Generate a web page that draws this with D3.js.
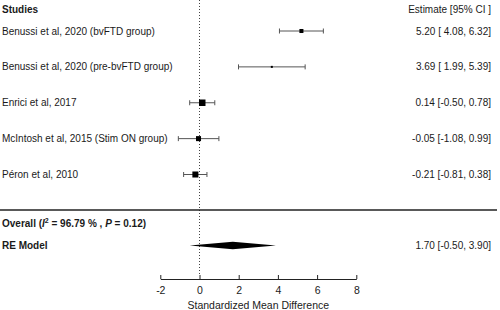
<!DOCTYPE html>
<html><head><meta charset="utf-8">
<script src="https://cdn.jsdelivr.net/npm/d3@7"></script>
<style>
html,body{margin:0;padding:0;background:#fff;}
svg{display:block;font-family:"Liberation Sans",Arial,Helvetica,sans-serif;}
</style></head>
<body><svg id="c" width="500" height="310"></svg>
<script>
const studies = ["Benussi et al, 2020 (bvFTD group)", "Benussi et al, 2020 (pre-bvFTD group)", "Enrici et al, 2017", "McIntosh et al, 2015 (Stim ON group)", "Péron et al, 2010"];
const estimates = [5.20, 3.69, 0.14, -0.05, -0.21];
const lower = [4.08, 1.99, -0.50, -1.08, -0.81];
const upper = [6.32, 5.39, 0.78, 0.99, 0.38];
const weights = [16, 4, 42, 25, 36];
const pooled = {est: 1.70, lo: -0.50, hi: 3.90};
const ticks = [-2, 0, 2, 4, 6, 8];

const svg = d3.select("#c");
const x = d3.scaleLinear().domain([-2, 8]).range([160.3, 356.3]);
const y = d3.scaleLinear().domain([0, 4]).range([31, 174.5]);
const sz = d3.scaleSqrt().domain([0, d3.max(weights)]).range([0, 6.5]);
const fmt = v => d3.format(".2f")(v).replace("\u2212", "-");
const txt = "#1a1a1a", gray = "#555";
const fs = 10;

// reference line at 0
svg.append("line").attr("x1", x(0)).attr("x2", x(0)).attr("y1", 0).attr("y2", 275)
  .attr("stroke", "#444").attr("stroke-width", 1).attr("stroke-dasharray", "1,2");

// headers
svg.append("text").attr("x", 2).attr("y", 12.5).attr("font-size", fs).attr("font-weight", "bold").attr("fill", txt).text("Studies");
svg.append("text").attr("x", 491).attr("y", 12.5).attr("font-size", fs).attr("text-anchor", "end").attr("fill", txt).text("Estimate [95% CI ]");

const rows = svg.append("g").selectAll("g").data(studies).join("g");
rows.append("text").attr("x", 2).attr("y", (d, i) => y(i) + 3.6).attr("font-size", fs).attr("fill", txt).text(d => d);
rows.append("line").attr("x1", (d, i) => x(lower[i])).attr("x2", (d, i) => x(upper[i]))
  .attr("y1", (d, i) => y(i)).attr("y2", (d, i) => y(i)).attr("stroke", gray).attr("stroke-width", 1);
rows.append("line").attr("x1", (d, i) => x(lower[i])).attr("x2", (d, i) => x(lower[i]))
  .attr("y1", (d, i) => y(i) - 2.5).attr("y2", (d, i) => y(i) + 2.5).attr("stroke", gray);
rows.append("line").attr("x1", (d, i) => x(upper[i])).attr("x2", (d, i) => x(upper[i]))
  .attr("y1", (d, i) => y(i) - 2.5).attr("y2", (d, i) => y(i) + 2.5).attr("stroke", gray);
rows.append("rect").attr("x", (d, i) => x(estimates[i]) - sz(weights[i]) / 2)
  .attr("y", (d, i) => y(i) - sz(weights[i]) / 2)
  .attr("width", (d, i) => sz(weights[i])).attr("height", (d, i) => sz(weights[i])).attr("fill", "#000");
rows.append("text").attr("x", 491).attr("y", (d, i) => y(i) + 3.6).attr("font-size", fs).attr("text-anchor", "end").attr("fill", txt)
  .text((d, i) => fmt(estimates[i]) + " [" + (lower[i] < 0 ? "" : " ") + fmt(lower[i]) + ", " + fmt(upper[i]) + "]");

// separator
svg.append("line").attr("x1", 0).attr("x2", 497).attr("y1", 210).attr("y2", 210).attr("stroke", "#222").attr("stroke-width", 1.5);

// overall text
const ov = svg.append("text").attr("x", 2).attr("y", 226.5).attr("font-size", fs).attr("font-weight", "bold").attr("fill", txt);
ov.append("tspan").text("Overall (");
ov.append("tspan").attr("font-style", "italic").text("I");
ov.append("tspan").attr("font-size", 7).attr("dy", -4).text("2");
ov.append("tspan").attr("dy", 4).text(" = 96.79 % , ");
ov.append("tspan").attr("font-style", "italic").text("P");
ov.append("tspan").text(" = 0.12)");

svg.append("text").attr("x", 2).attr("y", 248.5).attr("font-size", fs).attr("font-weight", "bold").attr("fill", txt).text("RE Model");
const yd = 245.5;
svg.append("path").attr("d", `M${x(pooled.lo)},${yd} L${x(pooled.est)},${yd - 3.8} L${x(pooled.hi)},${yd} L${x(pooled.est)},${yd + 3.8} Z`).attr("fill", "#000");
svg.append("text").attr("x", 491).attr("y", 248.5).attr("font-size", fs).attr("text-anchor", "end").attr("fill", txt)
  .text(fmt(pooled.est) + " [" + fmt(pooled.lo) + ", " + fmt(pooled.hi) + "]");

// axis
const ax = svg.append("g").attr("transform", "translate(0,279)")
  .call(d3.axisBottom(x).tickValues(ticks).tickFormat(d => String(d)).tickSizeInner(-4).tickSizeOuter(0).tickPadding(4));
ax.select(".domain").attr("stroke", "#222");
ax.selectAll(".tick line").attr("stroke", "#222");
ax.selectAll(".tick text").attr("font-size", 10.5).attr("fill", txt).attr("dy", "0.71em").attr("y", 8)
  .attr("font-family", "'Liberation Sans',Arial,sans-serif");
svg.append("text").attr("x", x(3)).attr("y", 309).attr("font-size", 10.5).attr("text-anchor", "middle").attr("fill", txt).text("Standardized Mean Difference");
</script></body></html>
